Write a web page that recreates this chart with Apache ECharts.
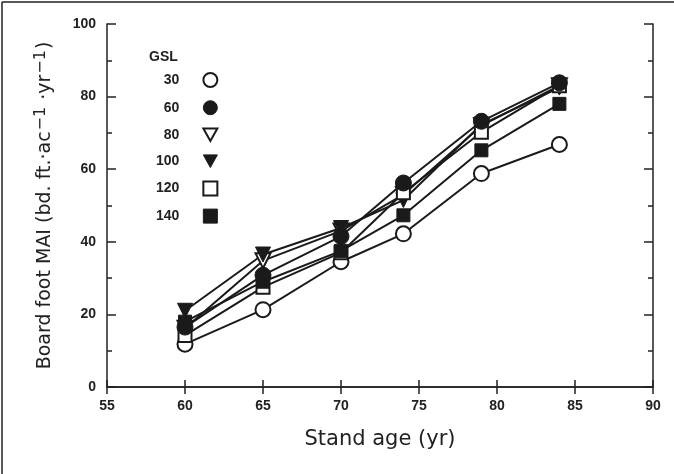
<!DOCTYPE html>
<html>
<head>
<meta charset="utf-8">
<script src="https://cdn.jsdelivr.net/npm/echarts@6/dist/echarts.min.js"></script>
<style>html,body{margin:0;padding:0;background:#fff;}#c{width:674px;height:474px;}</style>
</head>
<body>
<div id="c"></div>
<script>
const ages = [60, 65, 70, 74, 79, 84];
const gslNames = ['30', '60', '80', '100', '120', '140'];
const gsl30  = [11.8, 21.3, 34.5, 42.2, 58.8, 66.8];
const gsl60  = [16.5, 30.8, 41.5, 56.2, 73.2, 83.8];
const gsl80  = [16.2, 34.8, 43.0, 53.0, 72.0, 83.0];
const gsl100 = [21.0, 36.5, 43.8, 51.5, 72.3, 82.5];
const gsl120 = [14.2, 27.5, 37.0, 53.5, 70.2, 83.0];
const gsl140 = [18.0, 29.0, 37.5, 47.3, 65.2, 78.0];
const xTicks = [55, 60, 65, 70, 75, 80, 85, 90];
const yTicks = [0, 20, 40, 60, 80, 100];

const seriesValues = [gsl30, gsl60, gsl80, gsl100, gsl120, gsl140];
const symbols = [
  {symbol: 'circle', open: true, size: 15, rot: 0},
  {symbol: 'circle', open: false, size: 16, rot: 0},
  {symbol: 'triangle', open: true, size: 15, rot: 180},
  {symbol: 'triangle', open: false, size: 15, rot: 180},
  {symbol: 'rect', open: true, size: 13, rot: 0},
  {symbol: 'rect', open: false, size: 13, rot: 0}
];

const chart = echarts.init(document.getElementById('c'), null, {renderer: 'canvas'});
const series = seriesValues.map((vals, i) => {
  const s = symbols[i];
  return {
    name: gslNames[i],
    type: 'line',
    data: vals.map((v, j) => [ages[j], v]),
    symbol: s.symbol,
    symbolSize: s.size,
    symbolRotate: s.rot,
    showAllSymbol: true,
    lineStyle: {color: '#1a1a1a', width: 2},
    itemStyle: s.open ? {color: '#fff', borderColor: '#1a1a1a', borderWidth: 2}
                      : {color: '#1a1a1a', borderColor: '#1a1a1a', borderWidth: 1},
    z: i === 1 ? 5 : 3,
    animation: false
  };
});

const axisLine = {show: true, lineStyle: {color: '#222', width: 1.5}};
const labelFont = {color: '#222', fontFamily: 'Liberation Sans, Arial, sans-serif', fontWeight: 'bold', fontSize: 14};
const titleFont = 'DejaVu Sans, sans-serif';

chart.setOption({
  animation: false,
  backgroundColor: '#fff',
  grid: {left: 107, right: 21, top: 24, bottom: 87, containLabel: false},
  xAxis: [{
    type: 'value', min: 55, max: 90, interval: 5,
    axisLine: axisLine,
    axisTick: {inside: true, length: 7, lineStyle: {color: '#222', width: 1.5}},
    axisLabel: Object.assign({margin: 12, formatter: v => xTicks.includes(v) ? String(v) : ''}, labelFont),
    splitLine: {show: false},
    name: 'Stand age (yr)',
    nameLocation: 'middle',
    nameGap: 42,
    nameTextStyle: {fontFamily: titleFont, fontSize: 21, color: '#222'}
  }, {
    type: 'value', min: 55, max: 90, interval: 5, position: 'top',
    axisLine: axisLine,
    axisTick: {inside: true, length: 7, lineStyle: {color: '#222', width: 1.5}},
    axisLabel: {show: false}, splitLine: {show: false}
  }],
  yAxis: [{
    type: 'value', min: 0, max: 100, interval: 20,
    axisLine: axisLine,
    axisTick: {inside: true, length: 9, lineStyle: {color: '#222', width: 1.5}},
    minorTick: {show: true, splitNumber: 2, length: 5, lineStyle: {color: '#222', width: 1.5}},
    axisLabel: Object.assign({margin: 11, formatter: v => yTicks.includes(v) ? String(v) : ''}, labelFont),
    splitLine: {show: false},
    name: '{n|Board foot MAI (bd. ft.·ac}{s|−1}{n| ·yr}{s|−1}{n|)}',
    nameLocation: 'middle',
    nameGap: 52,
    nameTextStyle: {
      fontFamily: titleFont, fontSize: 19, color: '#222',
      rich: {
        n: {fontFamily: titleFont, fontSize: 19, color: '#222', verticalAlign: 'bottom', lineHeight: 22},
        s: {fontFamily: titleFont, fontSize: 16, color: '#222', verticalAlign: 'top', lineHeight: 18, padding: [0, 1, 12, 1]}
      }
    }
  }, {
    type: 'value', min: 0, max: 100, interval: 20, position: 'right',
    axisLine: axisLine,
    axisTick: {inside: true, length: 9, lineStyle: {color: '#222', width: 1.5}},
    minorTick: {show: true, splitNumber: 2, length: 5, lineStyle: {color: '#222', width: 1.5}},
    axisLabel: {show: false}, splitLine: {show: false}
  }],
  legend: {
    orient: 'vertical',
    align: 'right',
    left: 151,
    top: 67,
    itemWidth: 14,
    itemHeight: 14,
    itemGap: 12.2,
    textStyle: Object.assign({}, labelFont, {padding: [0, 19, 0, 0]}),
    data: gslNames.map((n, i) => ({
      name: n,
      icon: symbols[i].symbol === 'triangle' ? 'path://M0,0 L10,0 L5,9 Z' : symbols[i].symbol,
      itemStyle: symbols[i].open ? {color: '#fff', borderColor: '#1a1a1a', borderWidth: 2}
                                 : {color: '#1a1a1a', borderColor: '#1a1a1a', borderWidth: 1}
    }))
  },
  graphic: [
    {type: 'text', left: 149, top: 50, style: {text: 'GSL', fill: '#222', font: 'bold 14px "Liberation Sans", Arial, sans-serif'}},
    {type: 'line', shape: {x1: 2, y1: 2, x2: 674, y2: 2}, style: {stroke: '#222', lineWidth: 1.5}},
    {type: 'line', shape: {x1: 2, y1: 2, x2: 2, y2: 474}, style: {stroke: '#222', lineWidth: 1.5}}
  ],
  series: series
});
</script>
</body>
</html>
